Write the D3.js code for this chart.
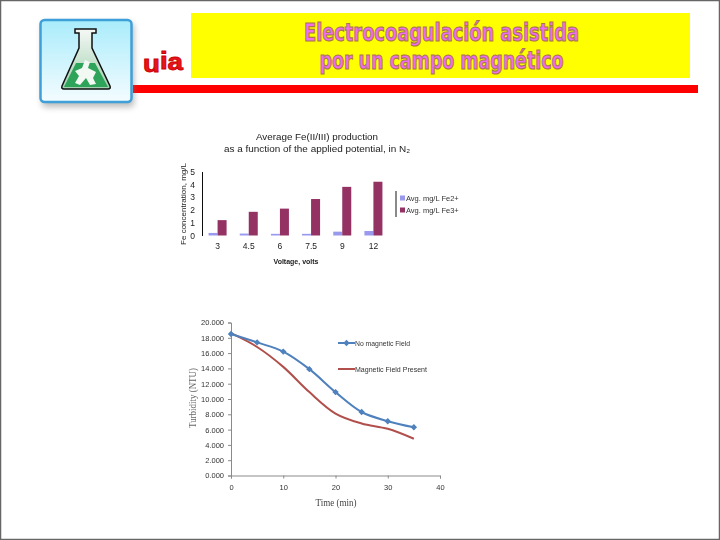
<!DOCTYPE html>
<html>
<head>
<meta charset="utf-8">
<script src="https://cdn.jsdelivr.net/npm/d3@7"></script>
<style>
  html, body { margin: 0; padding: 0; background: #fff; }
  svg { display: block; }
  text { font-family: "Liberation Sans", Arial, sans-serif; }
</style>
</head>
<body>
<div id="chart"></div>
<script>
const titleLines = ['Electrocoagulación asistida', 'por un campo magnético'];

// bar chart
const voltages = ['3', '4.5', '6', '7.5', '9', '12'];
const fe2 = [0.2, 0.15, 0.13, 0.13, 0.3, 0.35];
const fe3 = [1.2, 1.85, 2.1, 2.85, 3.8, 4.2];
const barSeries = ['Avg. mg/L Fe2+', 'Avg. mg/L Fe3+'];
const barTicks = [0, 1, 2, 3, 4, 5];

// line chart
const times = [0, 5, 10, 15, 20, 25, 30, 35];
const noField = [18.5, 17.4, 16.2, 13.9, 10.9, 8.3, 7.1, 6.3];
const withField = [18.6, 16.8, 14.2, 10.9, 8.1, 6.8, 6.1, 4.8];
const timeTicks = [0, 10, 20, 30, 40];
const turbTicks = [0, 2, 4, 6, 8, 10, 12, 14, 16, 18, 20];

const svg = d3.select('#chart').append('svg').attr('width', 720).attr('height', 540);
const defs = svg.append('defs');
defs.append('filter').attr('id', 'soft').append('feGaussianBlur').attr('stdDeviation', 0.45);
defs.append('filter').attr('id', 'shadow').append('feGaussianBlur').attr('stdDeviation', 3);
const sky = defs.append('linearGradient').attr('id', 'sky').attr('x1', 0).attr('x2', 0).attr('y1', 0).attr('y2', 1);
sky.append('stop').attr('offset', 0).attr('stop-color', '#a9ecfb');
sky.append('stop').attr('offset', 1).attr('stop-color', '#f4fcff');
const neck = defs.append('linearGradient').attr('id', 'neck').attr('x1', 0).attr('x2', 0).attr('y1', 0).attr('y2', 1);
neck.append('stop').attr('offset', 0).attr('stop-color', '#f6f8f6');
neck.append('stop').attr('offset', 1).attr('stop-color', '#9fd0ae');

// slide edge
svg.append('rect').attr('x', 0.5).attr('y', 0.5).attr('width', 719).attr('height', 539)
  .attr('fill', 'none').attr('stroke', '#666').attr('stroke-width', 1.5);

// header
svg.append('rect').attr('x', 191).attr('y', 13).attr('width', 499).attr('height', 65).attr('fill', '#ffff00');
svg.append('rect').attr('x', 133).attr('y', 85).attr('width', 565).attr('height', 8).attr('fill', '#ff0000');
svg.selectAll('.head').data(titleLines).join('text')
  .attr('class', 'head')
  .attr('x', 441.5)
  .attr('y', (d, i) => 41 + i * 28)
  .attr('text-anchor', 'middle')
  .attr('font-size', 25)
  .attr('font-weight', 'bold')
  .attr('textLength', (d, i) => i ? 244 : 275)
  .attr('lengthAdjust', 'spacingAndGlyphs')
  .attr('fill', '#f26cf2')
  .attr('stroke', '#a8784a')
  .attr('stroke-width', 1.2)
  .style('font-family', '"DejaVu Sans", sans-serif')
  .text(d => d);

// logo
const logo = svg.append('g');
logo.append('rect').attr('x', 42).attr('y', 23).attr('width', 92).attr('height', 84).attr('rx', 4)
  .attr('fill', '#777').attr('opacity', 0.5).attr('filter', 'url(#shadow)');
logo.append('rect').attr('x', 40.5).attr('y', 20).attr('width', 91).attr('height', 82).attr('rx', 4)
  .attr('fill', 'url(#sky)').attr('stroke', '#3f9fd8').attr('stroke-width', 2.5);
logo.append('path').attr('d', 'M75 29H96V33H92V48L110 86Q111 89 108 89H64Q61 89 62 86L79 48V33H75Z')
  .attr('fill', 'url(#neck)').attr('stroke', '#111').attr('stroke-width', 1.5);
logo.append('path').attr('d', 'M76 63H95L108 87H64Z').attr('fill', '#2ea35a');
logo.append('path').attr('d', 'M85 60L90 62L88 68L96 72L93 78L96 84L90 85L86 78L80 85L75 83L79 76L75 71L82 68Z').attr('fill', '#f2f8f2');

svg.append('text').attr('x', 143).attr('y', 72).attr('font-size', 24).attr('font-weight', 'bold')
  .attr('fill', '#e8141c').attr('stroke', '#c00').attr('stroke-width', 0.9)
  .attr('textLength', 40).attr('lengthAdjust', 'spacingAndGlyphs')
  .selectAll('tspan').data(['u', 'i', 'a']).join('tspan')
  .attr('dy', (d, i) => [0, -3, 1][i])
  .text(d => d);

// bar chart
const plots = svg.append('g').attr('filter', 'url(#soft)');
const bar = plots.append('g');
const bx = d3.scaleBand().domain(voltages).range([202, 389]);
const by = d3.scaleLinear().domain([0, 5]).range([235.5, 171.5]);
const bw = 9;

bar.append('g').selectAll('rect').data(fe2).join('rect')
  .attr('x', (d, i) => bx(voltages[i]) + bx.bandwidth() / 2 - bw)
  .attr('y', d => by(d)).attr('width', bw).attr('height', d => by(0) - by(d))
  .attr('fill', '#9999ee');
bar.append('g').selectAll('rect').data(fe3).join('rect')
  .attr('x', (d, i) => bx(voltages[i]) + bx.bandwidth() / 2)
  .attr('y', d => by(d)).attr('width', bw).attr('height', d => by(0) - by(d))
  .attr('fill', '#943064');

const bAxisY = bar.append('g').attr('transform', 'translate(202,0)')
  .call(d3.axisLeft(by).tickValues(barTicks).tickFormat(d3.format('d')).tickSize(0).tickPadding(7));
const bAxisX = bar.append('g').attr('transform', 'translate(0,236)')
  .call(d3.axisBottom(bx).tickSize(0).tickPadding(7));
[bAxisY, bAxisX].forEach(a => {
  a.selectAll('text').attr('font-size', 8.5).attr('fill', '#222').style('font-family', '"Liberation Sans", Arial, sans-serif');
});
bAxisY.select('.domain').attr('stroke', '#111');
bAxisX.select('.domain').remove();

bar.selectAll('.btitle').data(['Average Fe(II/III) production', 'as a function of the applied potential, in N₂']).join('text')
  .attr('class', 'btitle')
  .attr('x', 317).attr('y', (d, i) => 140 + i * 12)
  .attr('text-anchor', 'middle').attr('font-size', 9).attr('fill', '#222')
  .attr('textLength', (d, i) => i ? 186 : 122).attr('lengthAdjust', 'spacingAndGlyphs')
  .text(d => d);
bar.append('text').attr('x', 296).attr('y', 264).attr('text-anchor', 'middle')
  .attr('font-size', 7).attr('font-weight', 'bold').attr('fill', '#222').text('Voltage, volts');
bar.append('text').attr('transform', 'translate(186,204) rotate(-90)').attr('text-anchor', 'middle')
  .attr('font-size', 8).attr('fill', '#222').text('Fe concentration, mg/L');

bar.append('line').attr('x1', 396).attr('x2', 396).attr('y1', 191).attr('y2', 217).attr('stroke', '#111');
bar.selectAll('.bkey').data(barSeries).join('rect')
  .attr('class', 'bkey').attr('x', 400).attr('y', (d, i) => 195.5 + i * 12)
  .attr('width', 5).attr('height', 5)
  .attr('fill', (d, i) => i ? '#943064' : '#9999ee');
bar.selectAll('.blabel').data(barSeries).join('text')
  .attr('class', 'blabel').attr('x', 406).attr('y', (d, i) => 201 + i * 12)
  .attr('font-size', 7.5).attr('fill', '#333').text(d => d);

// line chart
const line = plots.append('g');
const lx = d3.scaleLinear().domain([0, 40]).range([231, 440]);
const ly = d3.scaleLinear().domain([0, 20]).range([475.5, 322.5]);
const curve = d3.line().x((d, i) => lx(times[i])).y(d => ly(d)).curve(d3.curveCatmullRom.alpha(0.5));

const lAxisX = line.append('g').attr('transform', 'translate(0,475.5)')
  .call(d3.axisBottom(lx).tickValues(timeTicks).tickFormat(d3.format('d')).tickSize(3).tickPadding(6));
const lAxisY = line.append('g').attr('transform', 'translate(231,0)')
  .call(d3.axisLeft(ly).tickValues(turbTicks).tickFormat(d3.format('.3f')).tickSize(3).tickPadding(4));
[lAxisX, lAxisY].forEach(a => {
  a.selectAll('text').attr('font-size', 7.5).attr('fill', '#333').style('font-family', '"Liberation Sans", Arial, sans-serif');
  a.select('.domain').attr('stroke', '#8a8a8a');
  a.selectAll('.tick line').attr('stroke', '#8a8a8a');
});

line.append('path').datum(withField).attr('d', curve).attr('fill', 'none').attr('stroke', '#b0504c').attr('stroke-width', 2);
line.append('path').datum(noField).attr('d', curve).attr('fill', 'none').attr('stroke', '#4f81bd').attr('stroke-width', 2);
const diamond = d3.symbol().type(d3.symbolDiamond2).size(26);
line.selectAll('.pt').data(noField).join('path')
  .attr('class', 'pt').attr('d', diamond)
  .attr('transform', (d, i) => `translate(${lx(times[i])},${ly(d)})`)
  .attr('fill', '#4f81bd');

line.append('line').attr('x1', 338).attr('x2', 355).attr('y1', 343).attr('y2', 343).attr('stroke', '#4f81bd').attr('stroke-width', 2);
line.append('path').attr('d', diamond).attr('transform', 'translate(346.5,343)').attr('fill', '#4f81bd');
line.append('line').attr('x1', 338).attr('x2', 355).attr('y1', 369).attr('y2', 369).attr('stroke', '#b0504c').attr('stroke-width', 2);
line.selectAll('.llabel').data(['No magnetic Field', 'Magnetic Field Present']).join('text')
  .attr('class', 'llabel').attr('x', 355).attr('y', (d, i) => 345.5 + i * 26)
  .attr('font-size', 7).attr('fill', '#333')
  .attr('textLength', (d, i) => i ? 72 : 55).attr('lengthAdjust', 'spacingAndGlyphs').text(d => d);

line.append('text').attr('x', 336).attr('y', 506).attr('text-anchor', 'middle')
  .attr('font-size', 9.5).attr('fill', '#444').attr('textLength', 41).attr('lengthAdjust', 'spacingAndGlyphs')
  .style('font-family', '"Liberation Serif", serif').text('Time (min)');
line.append('text').attr('transform', 'translate(196,398) rotate(-90)').attr('text-anchor', 'middle')
  .attr('font-size', 10).attr('fill', '#666').attr('textLength', 60).attr('lengthAdjust', 'spacingAndGlyphs')
  .style('font-family', '"Liberation Serif", serif').text('Turbidity (NTU)');
</script>
</body>
</html>
